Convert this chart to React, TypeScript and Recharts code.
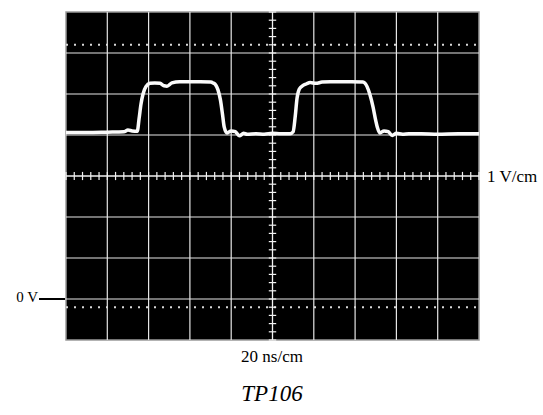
import { LineChart, Line, XAxis, YAxis, ReferenceLine, ReferenceArea } from "recharts";

// time in ns (20 ns/cm, 10 divisions), level in volts (1 V/cm, 0 V at third line from bottom)
const timeNs = [
  0, 10, 20, 28, 30, 32, 34.5, 35.4, 36.3, 37.3, 38.7, 40.7, 43, 45.5, 47.5, 48.9, 51.3, 55, 60, 65, 70, 71.2, 72.5,
  73.6, 74.8, 75.8, 76.6, 78, 80, 82, 84, 86, 87.7, 92, 96, 100, 104, 108.5, 110, 111, 111.9, 113, 114.8, 116.5,
  118.2, 121, 124, 128, 133, 138, 143.8, 145, 145.8, 147.2, 148.7, 150, 150.8, 152, 154, 156, 158, 160, 163, 166,
  172, 180, 190, 200,
];
const volts = [
  4.06, 4.06, 4.07, 4.08, 4.12, 4.1, 4.09, 4.4, 4.75, 5.0, 5.18, 5.26, 5.27, 5.26, 5.2, 5.19, 5.27, 5.3, 5.3, 5.3,
  5.29, 5.27, 5.22, 5.1, 4.85, 4.5, 4.2, 4.05, 4.1, 4.08, 3.98, 4.04, 4.02, 4.03, 4.02, 4.04, 4.03, 4.03, 4.08, 4.45,
  4.9, 5.12, 5.21, 5.25, 5.28, 5.26, 5.29, 5.3, 5.3, 5.3, 5.29, 5.25, 5.18, 4.98, 4.68, 4.35, 4.18, 4.05, 4.1, 4.08,
  3.99, 4.04, 4.02, 4.03, 4.03, 4.02, 4.03, 4.03,
];

const gridTimes = [20, 40, 60, 80, 120, 140, 160, 180];
const gridVolts = [0, 1, 2, 4, 5, 6];
const dottedVolts = [-0.2, 6.2];
const minorTimes = Array.from({ length: 51 }, (_, i) => i * 4);
const minorVolts = Array.from({ length: 41 }, (_, i) => -1 + i * 0.2);

const data = timeNs.map((t, i) => ({ t, v: volts[i] }));

const grid = "#e6e6e6";
const serif = "'Liberation Serif', 'DejaVu Serif', serif";

export default function App() {
  return (
    <div style={{ position: "absolute", left: 0, top: 0, width: 543, height: 415, background: "#fff" }}>
      <LineChart width={543} height={415} data={data} margin={{ top: 12, right: 64, bottom: 75, left: 66 }}>
        <XAxis dataKey="t" type="number" domain={[0, 200]} hide />
        <YAxis type="number" domain={[-1, 7]} hide />
        <ReferenceArea x1={0} x2={200} y1={-1} y2={7} fill="#000" fillOpacity={1} stroke="#9a9a9a" strokeWidth={1.5} />
        {gridTimes.map((t) => (
          <ReferenceLine key={"gx" + t} x={t} stroke={grid} strokeWidth={1.2} />
        ))}
        {gridVolts.map((v) => (
          <ReferenceLine key={"gy" + v} y={v} stroke={grid} strokeWidth={1.2} />
        ))}
        {dottedVolts.map((v) => (
          <ReferenceLine key={"d" + v} y={v} stroke="#d8d8d8" strokeWidth={2} strokeDasharray="2 6" />
        ))}
        <ReferenceLine x={100} stroke="#f2f2f2" strokeWidth={1.3} />
        <ReferenceLine y={3} stroke="#f2f2f2" strokeWidth={1.3} />
        {minorTimes.map((t) => (
          <ReferenceLine
            key={"mt" + t}
            segment={[
              { x: t, y: 2.9 },
              { x: t, y: 3.1 },
            ]}
            stroke="#f2f2f2"
            strokeWidth={1.2}
          />
        ))}
        {minorVolts.map((v) => (
          <ReferenceLine
            key={"mv" + v}
            segment={[
              { x: 98.2, y: v },
              { x: 101.8, y: v },
            ]}
            stroke="#f2f2f2"
            strokeWidth={1.2}
          />
        ))}
        <Line
          type="monotone"
          dataKey="v"
          stroke="#fafafa"
          strokeWidth={3.5}
          dot={false}
          isAnimationActive={false}
        />
      </LineChart>
      <div style={{ position: "absolute", left: 487, top: 167, fontFamily: serif, fontSize: 17, color: "#000", whiteSpace: "nowrap" }}>
        1 V/cm
      </div>
      <div style={{ position: "absolute", left: 0, width: 38, top: 289, textAlign: "right", fontFamily: serif, fontSize: 15, color: "#000", whiteSpace: "nowrap" }}>
        0 V
      </div>
      <div style={{ position: "absolute", left: 39, top: 298, width: 26, height: 1.5, background: "#000" }} />
      <div style={{ position: "absolute", left: 172, width: 200, top: 347, textAlign: "center", fontFamily: serif, fontSize: 17, color: "#000" }}>
        20 ns/cm
      </div>
      <div style={{ position: "absolute", left: 172, width: 200, top: 381, textAlign: "center", fontFamily: serif, fontSize: 23, fontStyle: "italic", color: "#000" }}>
        TP106
      </div>
    </div>
  );
}
